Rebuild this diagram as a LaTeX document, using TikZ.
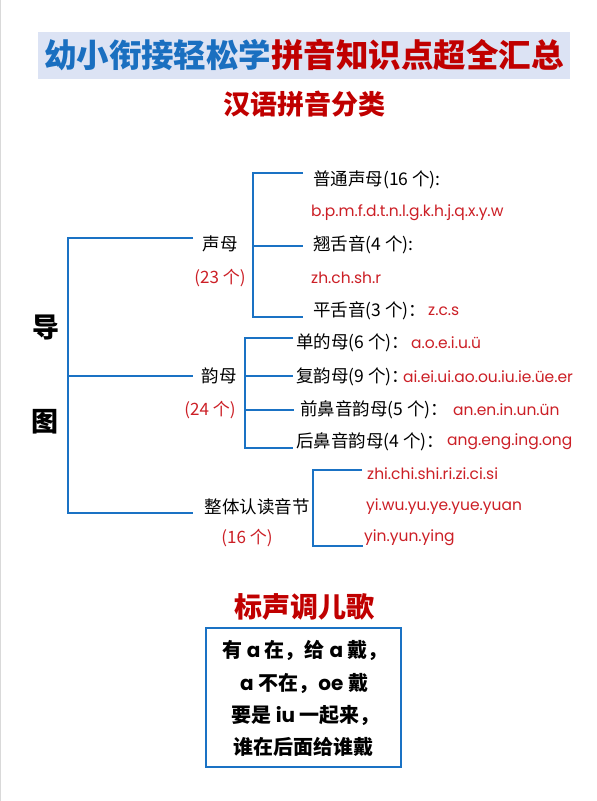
\documentclass[tikz,border=0pt]{standalone}
\usepackage{fontspec}
\newfontfamily\cjk{Noto Sans CJK SC}
\newfontfamily\pop{Poppins}
\definecolor{tblue}{HTML}{1A6FC0}
\definecolor{tred}{HTML}{C00000}
\definecolor{pred}{HTML}{CC1F26}
\definecolor{lblue}{HTML}{1A72C4}
\definecolor{bannerfill}{HTML}{DCE3F4}
\tikzset{
  cn/.style={font={\cjk\fontsize{17.5}{19}\selectfont}, inner sep=0pt, text=black},
  rc/.style={font={\cjk\fontsize{17}{19}\selectfont}, inner sep=0pt, text=pred},
  rl/.style={font={\pop\fontsize{15.5}{18}\selectfont}, inner sep=0pt, text=pred},
  big/.style={font={\cjk\bfseries\fontsize{27}{29}\selectfont}, inner sep=0pt, text=black},
  head/.style={font={\cjk\bfseries\fontsize{27}{29}\selectfont}, inner sep=0pt, text=tred},
  poem/.style={font={\cjk\bfseries\fontsize{20}{22}\selectfont}, inner sep=0pt, text=black, anchor=west},
  br/.style={draw=lblue, line width=2pt},
}
\newcommand{\pl}[1]{{\pop #1}}
\begin{document}
\begin{tikzpicture}[x=1pt,y=-1pt]
\useasboundingbox (0,0) rectangle (597,801);
\fill[white] (0,0) rectangle (597,801);
\draw[black!15, line width=1pt] (0.5,0) -- (0.5,801);

% title banner
\node[fill=bannerfill, minimum width=532pt, minimum height=47pt, inner sep=0pt,
      font={\cjk\bfseries\fontsize{32.5}{34}\selectfont}] (title) at (304,55.5)
  {\textcolor{tblue}{幼小衔接轻松学}\textcolor{tred}{拼音知识点超全汇总}};
\node[head] (sub1) at (304,104) {汉语拼音分类};

% left labels
\node[big] (dao) at (46,328) {导};
\node[big] (tu) at (45,422) {图};

% main bracket
\coordinate (rt) at (68,237.5);
\coordinate (rm) at (68,376);
\coordinate (rb) at (68,513);
\coordinate (e1) at (193,237.5);
\coordinate (e2) at (193,376);
\coordinate (e3) at (193,513);
\draw[br] (e1) -- (rt) -- (rb) -- (e3);
\draw[br] (rm) -- (e2);

% level-1 labels
\node[cn] (sm) at (220,244) {声母};
\node[rc] (smn) at (220,278) {(23 个)};
\node[cn] (ym) at (219,376) {韵母};
\node[rc] (ymn) at (210,410) {(24 个)};
\node[cn] (zt) at (257,507) {整体认读音节};
\node[rc] (ztn) at (247,538) {(16 个)};

% 声母 bracket
\coordinate (a0) at (253,173);
\coordinate (a1) at (303,173);
\coordinate (am) at (253,246);
\coordinate (am2) at (303,246);
\coordinate (a2) at (253,317);
\coordinate (a3) at (303,317);
\draw[br] (a1) -- (a0) -- (a2) -- (a3);
\draw[br] (am) -- (am2);

\node[cn, anchor=west] (pt) at (313,180) {普通声母(16 个):};
\node[rl, anchor=west] (ptl) at (311,213) {b.p.m.f.d.t.n.l.g.k.h.j.q.x.y.w};
\node[cn, anchor=west] (qs) at (313,245) {翘舌音(4 个):};
\node[rl, anchor=west] (qsl) at (311,278) {zh.ch.sh.r};
\node[cn, anchor=west] (ps) at (313,311) {平舌音(3 个)：};
\node[rl, anchor=west] (psl) at (428,311) {z.c.s};

% 韵母 bracket
\coordinate (b0) at (245,338);
\coordinate (b0e) at (293,338);
\coordinate (b1) at (245,376);
\coordinate (b1e) at (293,376);
\coordinate (b2) at (245,410);
\coordinate (b2e) at (294,410);
\coordinate (b3) at (245,448);
\coordinate (b3e) at (293,448);
\draw[br] (b0e) -- (b0) -- (b3) -- (b3e);
\draw[br] (b1) -- (b1e);
\draw[br] (b2) -- (b2e);

\node[cn, anchor=west] (dy) at (296,343) {单的母(6 个)：};
\node[rl, anchor=west] (dyl) at (411,343) {a.o.e.i.u.ü};
\node[cn, anchor=west] (fy) at (296,377) {复韵母(9 个)：};
\node[rl, anchor=west] (fyl) at (403,377) {ai.ei.ui.ao.ou.iu.ie.üe.er};
\node[cn, anchor=west] (qb) at (300,410) {前鼻音韵母(5 个)：};
\node[rl, anchor=west] (qbl) at (453,410) {an.en.in.un.ün};
\node[cn, anchor=west] (hb) at (296,442) {后鼻音韵母(4 个)：};
\node[rl, anchor=west] (hbl) at (447,442) {ang.eng.ing.ong};

% 整体认读音节 bracket
\coordinate (c0) at (313,470);
\coordinate (c0e) at (362,470);
\coordinate (c1) at (313,546);
\coordinate (c1e) at (363,546);
\draw[br] (c0e) -- (c0) -- (c1) -- (c1e);

\node[rl, anchor=west] (z1) at (367,474) {zhi.chi.shi.ri.zi.ci.si};
\node[rl, anchor=west] (z2) at (366,507) {yi.wu.yu.ye.yue.yuan};
\node[rl, anchor=west] (z3) at (364,538) {yin.yun.ying};

% 标声调儿歌
\node[head, font={\cjk\bfseries\fontsize{28}{30}\selectfont}] (sub2) at (304,607) {标声调儿歌};
\node[draw=lblue, line width=1.5pt, minimum width=195pt, minimum height=139pt,
      inner sep=0pt] (box) at (303.5,697.5) {};
\node[poem] (p1) at (222,650) {有 \pl{a} 在，给 \pl{a} 戴，};
\node[poem] (p2) at (240,683) {\pl{a} 不在，\pl{oe} 戴};
\node[poem] (p3) at (231,715) {要是 \pl{iu} 一起来，};
\node[poem] (p4) at (233,747) {谁在后面给谁戴};
\end{tikzpicture}
\end{document}
